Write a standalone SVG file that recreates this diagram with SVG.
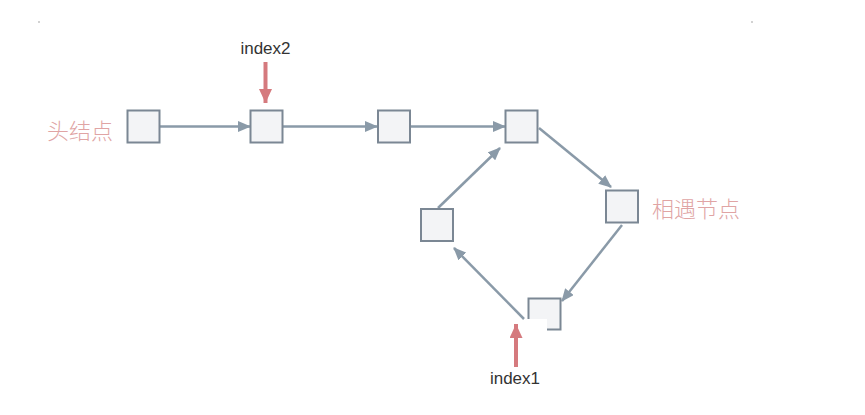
<svg xmlns="http://www.w3.org/2000/svg" width="865" height="415" viewBox="0 0 865 415">
<defs>
<style>
.box{fill:#f3f4f6;stroke:#7b8794;stroke-width:2}
.edge{stroke:#8a9aa8;stroke-width:2.5;fill:none}
.ptr{stroke:#d57a7e;stroke-width:4;fill:none}
.lbl{font-family:"Noto Sans CJK SC","Noto Sans",sans-serif;font-size:22px;font-weight:300;fill:#e0a4a4}
.idx{font-family:"Liberation Sans",Arial,sans-serif;font-size:17px;fill:#333}
</style>
<marker id="ah" viewBox="0 0 13 11" refX="12" refY="5.5" markerWidth="13" markerHeight="11" markerUnits="userSpaceOnUse" orient="auto">
<path d="M0,0 L13,5.5 L0,11 Z" fill="#8a9aa8"/>
</marker>
<marker id="ph" viewBox="0 0 14 13" refX="14" refY="6.5" markerWidth="14" markerHeight="13" markerUnits="userSpaceOnUse" orient="auto">
<path d="M0,0 L14,6.5 L0,13 Z" fill="#d57a7e"/>
</marker>
</defs>
<rect width="865" height="415" fill="#fff"/>
<circle cx="39" cy="22" r="0.8" fill="#999"/>
<circle cx="752" cy="22" r="0.8" fill="#999"/>
<g id="connectors">
<line class="edge" x1="160" y1="126.5" x2="250" y2="126.5" marker-end="url(#ah)"/>
<line class="edge" x1="283" y1="126.5" x2="377" y2="126.5" marker-end="url(#ah)"/>
<line class="edge" x1="411" y1="126.5" x2="505" y2="126.5" marker-end="url(#ah)"/>
<line class="edge" x1="539" y1="128" x2="611" y2="187" marker-end="url(#ah)"/>
<line class="edge" x1="622" y1="225" x2="562" y2="301" marker-end="url(#ah)"/>
<line class="edge" x1="524" y1="319" x2="454" y2="248" marker-end="url(#ah)"/>
<line class="edge" x1="438" y1="208" x2="500" y2="148" marker-end="url(#ah)"/>
<line class="ptr" x1="265.5" y1="62" x2="265.5" y2="103" marker-end="url(#ph)"/>
<line class="ptr" x1="516" y1="367" x2="516" y2="324" marker-end="url(#ph)"/>
</g>
<g id="head"><rect class="box" x="127.5" y="110.5" width="32" height="32"/><text class="lbl" x="47" y="139">头结点</text></g>
<g id="n2"><rect class="box" x="250.5" y="110.5" width="32" height="32"/><text class="idx" x="265.5" y="54" text-anchor="middle">index2</text></g>
<g id="n3"><rect class="box" x="378" y="110.5" width="32" height="32"/></g>
<g id="n4"><rect class="box" x="505.5" y="110.5" width="32" height="32"/></g>
<g id="meet"><rect class="box" x="606" y="190.5" width="32" height="32"/><text class="lbl" x="652" y="217">相遇节点</text></g>
<g id="n6"><rect class="box" x="421" y="209" width="32" height="32"/></g>
<g id="n7">
<path d="M528.5,298.5 H560.5 V329.5 H547 V319 H528.5 Z" fill="#f3f4f6"/>
<path d="M528.5,319 V298.5 H560.5 V329.5 H547" fill="none" stroke="#7b8794" stroke-width="2"/>
<text class="idx" x="515" y="384" text-anchor="middle">index1</text>
</g>
</svg>
